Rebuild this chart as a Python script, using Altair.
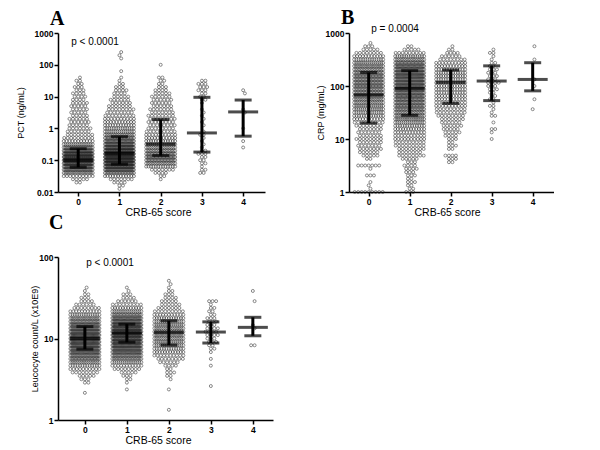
import altair as alt
import pandas as pd

GROUPS = [0, 1, 2, 3, 4]
X_TICKS = [0, 1, 2, 3, 4]

# ---------------- Panel A: PCT (ng/mL), log rows every 0.1 decade ----------------
A_STEP = 0.1
A_START = [-1.7, -1.9, -1.6, -1.4, -0.6]          # log10 of lowest row per group
A_COUNTS_0 = [2, 5, 10, 18, 26, 34, 40, 44, 44, 40, 32, 24, 16, 11, 9, 8, 7, 7, 6, 6,
              6, 5, 5, 5, 5, 5, 4, 4, 4, 3, 3, 2, 2, 1]
A_COUNTS_1 = [1, 2, 4, 7, 12, 20, 30, 40, 46, 50, 50, 46, 42, 36, 30, 25, 21, 18, 15, 14,
              12, 11, 10, 9, 8, 8, 7, 6, 6, 5, 4, 4, 3, 2, 1, 1, 0, 1, 0, 0, 0, 1, 1, 1]
A_COUNTS_2 = [1, 2, 4, 7, 13, 18, 21, 22, 21, 19, 17, 15, 13, 11, 10, 9, 8, 8, 8, 8,
              8, 7, 7, 6, 6, 6, 6, 5, 4, 3, 2, 2, 2, 0, 0, 0, 1]
A_COUNTS_3 = [2, 2, 1, 2, 2, 2, 3, 2, 1, 1, 1, 1, 2, 1, 0, 1, 1, 1, 1, 1, 1, 0, 1, 2, 2,
              2, 3, 3, 3, 2]
A_COUNTS_4 = [1, 0, 1, 0, 0, 0, 1, 0, 0, 0, 0, 1, 1, 0, 0, 0, 0, 1, 1]
A_MEDIAN = [0.10, 0.165, 0.32, 0.72, 3.3]
A_Q1 = [0.06, 0.075, 0.14, 0.18, 0.57]
A_Q3 = [0.23, 0.55, 1.9, 9.5, 7.8]

# ---------------- Panel B: CRP (mg/mL), log rows every 1/16 decade ----------------
B_STEP = 0.0625
B_START = [0.0, 0.0, 0.5625, 1.0, 1.5625]
B_COUNTS_0 = [9, 1, 1, 1, 0, 3, 0, 1, 7, 0, 2, 5, 6, 7, 7, 7, 8, 7, 7, 7,
              8, 9, 11, 13, 14, 15, 16, 17, 18, 19, 20, 20, 21, 21, 21, 21, 20, 19, 18, 16,
              14, 11, 8, 5, 3, 1]
B_COUNTS_1 = [3, 2, 2, 3, 2, 3, 3, 4, 4, 3, 5, 8, 7, 8, 9, 9, 10, 10, 11, 12,
              13, 15, 17, 18, 19, 20, 21, 22, 23, 24, 25, 26, 27, 28, 28, 28, 28, 27, 25, 22,
              18, 14, 9, 5, 2]
B_COUNTS_2 = [2, 3, 4, 0, 2, 3, 2, 3, 4, 5, 5, 6, 6, 7, 8, 9, 9, 10, 10, 11,
              11, 12, 12, 12, 13, 13, 13, 13, 12, 11, 10, 8, 6, 4, 2, 1]
B_COUNTS_3 = [1, 0, 1, 2, 0, 1, 0, 2, 1, 1, 2, 1, 2, 2, 2, 3, 3, 4, 3, 3,
              3, 3, 2, 2, 1, 1, 2, 1]
B_COUNTS_4 = [1, 0, 0, 1, 0, 0, 0, 1, 0, 1, 0, 0, 0, 0, 0, 1, 0, 0, 0, 1]
B_MEDIAN = [68, 90, 117, 124, 133]
B_Q1 = [20, 28, 47, 53, 81]
B_Q3 = [180, 195, 200, 240, 275]

# ---------------- Panel C: Leucocyte count, log rows every 1/24 decade ----------------
C_STEP = 1 / 24
C_START_ROW = [8, 9, 3, 10, 22]                     # lowest row index per group
C_COUNTS_0 = [1, 0, 0, 2, 3, 5, 8, 10, 13, 17, 21, 24, 27, 30, 32, 33, 34, 33, 31, 29,
              26, 22, 18, 14, 11, 8, 6, 4, 3, 2, 1, 1]
C_COUNTS_1 = [1, 0, 1, 2, 3, 5, 8, 11, 15, 19, 23, 27, 31, 34, 37, 39, 40, 40, 38, 35,
              31, 26, 21, 16, 12, 9, 6, 4, 3, 1, 1]
C_COUNTS_2 = [1, 0, 0, 0, 0, 0, 1, 0, 0, 1, 2, 3, 2, 4, 6, 8, 10, 12, 13, 15,
              16, 17, 18, 18, 17, 16, 15, 13, 11, 9, 7, 6, 5, 4, 3, 2, 1, 1, 1]
C_COUNTS_3 = [1, 0, 0, 0, 0, 0, 1, 0, 1, 0, 1, 2, 2, 3, 3, 4, 4, 4, 3, 3,
              3, 2, 2, 2, 1, 3]
C_COUNTS_4 = [2, 0, 0, 0, 0, 1, 1, 0, 0, 0, 0, 0, 0, 1, 0, 0, 1]
C_MEDIAN = [10.0, 11.7, 11.9, 12.0, 13.7]
C_Q1 = [7.4, 9.0, 8.3, 8.8, 10.8]
C_Q3 = [14.0, 15.0, 16.5, 16.0, 18.2]

# ---------------- layout ----------------
A_W, A_H, A_XD = 207, 159, [-0.49, 4.53]
B_W, B_H, B_XD = 205, 159, [-0.48, 4.52]
C_W, C_H, C_XD = 215, 163, [-0.64, 4.48]
LABEL_FONT = "Liberation Sans"


def expand(starts_log, counts, step, width, xdomain, half_width=14.5, gap=3.5):
    ppu = width / (xdomain[1] - xdomain[0])
    recs = []
    for g, (s, cs) in enumerate(zip(starts_log, counts)):
        for k, n in enumerate(cs):
            if n == 0:
                continue
            v = 10 ** (s + k * step)
            sp = gap if n == 1 else min(gap, 2 * half_width / (n - 1))
            shift = (gap / 2 if (k % 2 and n * gap < 2 * half_width) else 0.0)
            for i in range(n):
                off = (i - (n - 1) / 2) * sp + shift
                recs.append({"xpos": g + off / ppu, "value": v})
    return pd.DataFrame(recs)


def panel(df, med, q1, q3, letter, letter_dx, letter_offset, ytitle, ytitle_x,
          ydomain, yticks, xdomain, width, height, xtitle_x, ptext, pxy):
    def X(field):
        return alt.X(f"{field}:Q",
                     scale=alt.Scale(domain=xdomain, nice=False, zero=False),
                     axis=alt.Axis(values=X_TICKS, format="d", title="CRB-65 score",
                                   titleX=xtitle_x, titleAlign="center",
                                   titlePadding=2))

    def Y(field):
        return alt.Y(f"{field}:Q",
                     scale=alt.Scale(type="log", domain=ydomain, nice=False),
                     axis=alt.Axis(values=yticks, format="~g", title=ytitle,
                                   titleX=ytitle_x, titleBaseline="middle"))

    st = pd.DataFrame({"xpos": GROUPS, "median": med, "q1": q1, "q3": q3})
    pts = alt.Chart(df).mark_point(shape="circle", filled=False, size=9,
                                   strokeWidth=0.75, color="#222222").encode(
        x=X("xpos"), y=Y("value"))
    vline = alt.Chart(st).mark_rule(strokeWidth=3, color="black").encode(
        x=X("xpos"), y=Y("q1"), y2="q3:Q")
    mtick = alt.Chart(st).mark_tick(orient="horizontal", size=30, thickness=3,
                                    color="black").encode(x=X("xpos"), y=Y("median"))
    qtick1 = alt.Chart(st).mark_tick(orient="horizontal", size=17, thickness=3,
                                     color="black").encode(x=X("xpos"), y=Y("q1"))
    qtick3 = alt.Chart(st).mark_tick(orient="horizontal", size=17, thickness=3,
                                     color="black").encode(x=X("xpos"), y=Y("q3"))
    txt = alt.Chart(pd.DataFrame({"t": [ptext]})).mark_text(
        font=LABEL_FONT, fontSize=10, color="black").encode(
        x=alt.value(pxy[0]), y=alt.value(pxy[1]), text="t:N")
    return alt.layer(pts, vline, mtick, qtick1, qtick3, txt).properties(
        width=width, height=height,
        title=alt.TitleParams(letter, anchor="start", frame="group", dx=letter_dx,
                              offset=letter_offset, font="Liberation Serif",
                              fontSize=20, fontWeight="bold", color="black"))


dfA = expand(A_START, [A_COUNTS_0, A_COUNTS_1, A_COUNTS_2, A_COUNTS_3, A_COUNTS_4],
             A_STEP, A_W, A_XD)
dfB = expand(B_START, [B_COUNTS_0, B_COUNTS_1, B_COUNTS_2, B_COUNTS_3, B_COUNTS_4],
             B_STEP, B_W, B_XD)
dfC = expand([r * C_STEP for r in C_START_ROW],
             [C_COUNTS_0, C_COUNTS_1, C_COUNTS_2, C_COUNTS_3, C_COUNTS_4],
             C_STEP, C_W, C_XD)

pA = panel(dfA, A_MEDIAN, A_Q1, A_Q3, "A", -8, 0, "PCT (ng/mL)", -38,
           [0.01, 1000], [0.01, 0.1, 1, 10, 100, 1000], A_XD, A_W, A_H, 100,
           "p < 0.0001", (37, 9))
pB = panel(dfB, B_MEDIAN, B_Q1, B_Q3, "B", -8, -4, "CRP (mg/mL)", -29,
           [1, 1000], [1, 10, 100, 1000], B_XD, B_W, B_H, 98,
           "p = 0.0004", (46, -4))
pC = panel(dfC, C_MEDIAN, C_Q1, C_Q3, "C", -9, 20, "Leucocyte count/L (x10E9)", -24,
           [1, 100], [1, 10, 100], C_XD, C_W, C_H, 100,
           "p < 0.0001", (52, 6))

chart = alt.vconcat(
    alt.hconcat(pA, pB, spacing=51),
    pC,
    spacing=-5,
).properties(padding={"left": 8, "top": 0, "right": 0, "bottom": 0}).configure_view(
    stroke=None
).configure_axis(
    grid=False, domainColor="black", domainWidth=1.5, tickColor="black", tickWidth=1.5,
    tickSize=4, labelPadding=1, labelFont=LABEL_FONT, labelFontSize=8.5,
    labelFontWeight="bold", labelColor="black", titleFont=LABEL_FONT,
    titleFontSize=9, titleFontWeight="normal", titleColor="black"
).configure_axisX(titleFontSize=10.5)

chart.save("out.html", embed_options={"renderer": "svg", "actions": False})
